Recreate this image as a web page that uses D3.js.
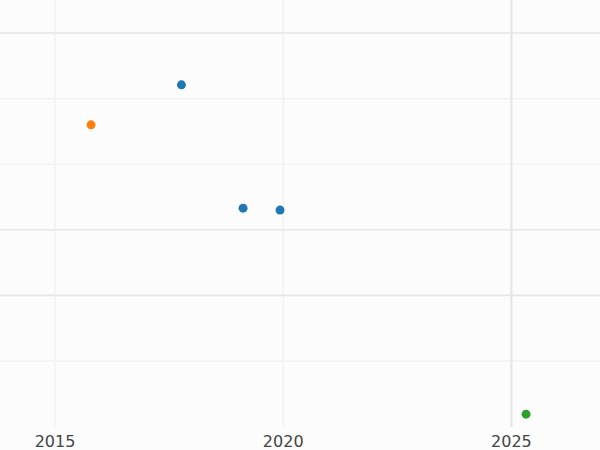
<!DOCTYPE html>
<html><head><meta charset="utf-8">
<script src="https://cdn.jsdelivr.net/npm/d3@7"></script>
<style>body{margin:0;background:#fff}</style>
</head><body><div id="chart"></div>
<script>
const years = [2017.77, 2015.79, 2019.12, 2019.93, 2025.32];
const values = [5.21, 4.60, 3.33, 3.30, 0.19];
const groups = ["a", "b", "a", "a", "c"];
const xTicks = [2015, 2020, 2025];
const yTicks = [1, 2, 3, 4, 5, 6];

const w = 600, h = 450;
const svg = d3.select("#chart").append("svg").attr("width", w).attr("height", h);
svg.append("rect").attr("width", w).attr("height", h).attr("fill", "#fcfcfc");

const x = d3.scaleLinear().domain([2013.795, 2026.94]).range([0, w]);
const y = d3.scaleLinear().domain([0, 6]).range([426.6, 33]);
const color = d3.scaleOrdinal().domain(["a", "b", "c"]).range(["#1f77b4", "#ff7f0e", "#2ca02c"]);

svg.append("g").selectAll("line").data(yTicks).enter().append("line")
  .attr("x1", 0).attr("x2", w)
  .attr("y1", d => y(d)).attr("y2", d => y(d))
  .attr("stroke", d => (d === 3 || d === 2 || d === 6) ? "#e6e6e6" : "#eeeeee")
  .attr("stroke-width", d => (d === 3 || d === 2 || d === 6) ? 1.6 : 1);

svg.append("g").selectAll("line").data(xTicks).enter().append("line")
  .attr("x1", d => x(d)).attr("x2", d => x(d))
  .attr("y1", 0).attr("y2", 427)
  .attr("stroke", d => d === 2025 ? "#e4e4e4" : "#eeeeee")
  .attr("stroke-width", d => d === 2025 ? 2 : 1);

svg.append("g").selectAll("text").data(xTicks).enter().append("text")
  .attr("x", d => x(d)).attr("y", 447)
  .attr("text-anchor", "middle")
  .attr("font-family", "DejaVu Sans").attr("font-size", 16)
  .attr("fill", "#444").text(d => d);

svg.append("g").selectAll("circle").data(years).enter().append("circle")
  .attr("cx", d => x(d)).attr("cy", (d, i) => y(values[i]))
  .attr("r", 4.5).attr("fill", (d, i) => color(groups[i]));
</script></body></html>
